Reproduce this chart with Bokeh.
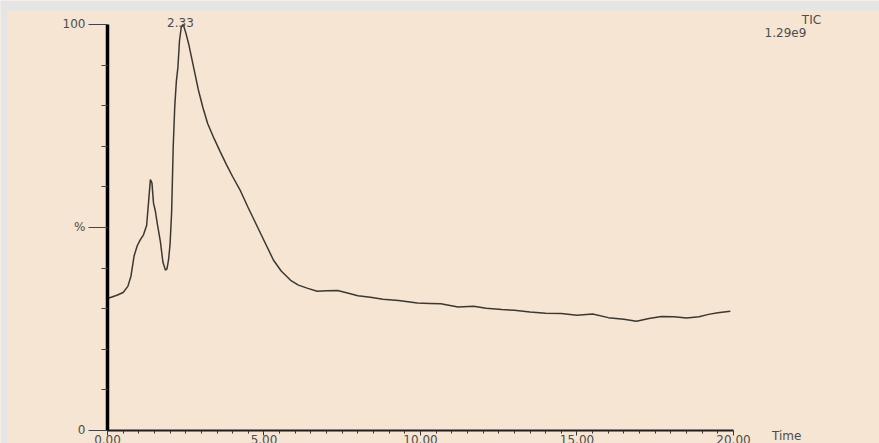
from bokeh.plotting import figure
from bokeh.models import Range1d, FixedTicker, Label, BoxAnnotation, PrintfTickFormatter
from bokeh.embed import file_html
from bokeh.resources import INLINE

# ---- data ----
time_min = [0.0, 0.3, 0.5, 0.65, 0.75, 0.85, 0.95, 1.05, 1.15, 1.25, 1.32, 1.37, 1.42,
            1.47, 1.53, 1.6, 1.69, 1.77, 1.85, 1.9, 1.95, 2.0, 2.05, 2.1, 2.15, 2.2,
            2.25, 2.3, 2.36, 2.42, 2.5, 2.6, 2.75, 2.9, 3.05, 3.2, 3.4, 3.6, 3.8, 4.0,
            4.25, 4.5, 4.8, 5.05, 5.3, 5.55, 5.85, 6.1, 6.4, 6.7, 7.0, 7.35, 7.7, 8.0,
            8.4, 8.8, 9.3, 9.9, 10.3, 10.65, 11.2, 11.7, 12.1, 12.6, 13.0, 13.5, 14.0,
            14.5, 15.0, 15.5, 16.0, 16.5, 16.9, 17.3, 17.7, 18.1, 18.5, 18.9, 19.2,
            19.5, 19.9]
intensity = [32.5, 33.3, 34.0, 35.5, 38.0, 43.0, 45.5, 47.0, 48.2, 50.5, 57.0, 61.8, 61.0,
             56.0, 54.0, 50.5, 46.5, 41.5, 39.5, 39.8, 42.0, 46.0, 54.0, 70.0, 80.0, 86.0,
             89.5, 96.0, 99.5, 100.0, 98.0, 95.0, 89.5, 84.0, 79.5, 75.6, 72.0, 68.7, 65.5,
             62.5, 59.0, 54.8, 50.0, 46.0, 42.0, 39.3, 37.0, 35.8, 35.0, 34.3, 34.4, 34.5,
             33.8, 33.2, 32.8, 32.3, 32.0, 31.4, 31.3, 31.2, 30.4, 30.6, 30.1, 29.8, 29.6,
             29.2, 28.9, 28.8, 28.4, 28.7, 27.8, 27.4, 26.9, 27.6, 28.1, 28.0, 27.7, 28.0,
             28.6, 29.0, 29.4]

x_tick_values = [0, 5, 10, 15, 20]
x_tick_labels = ["0.00", "5.00", "10.00", "15.00", "20.00"]
x_minor_ticks = [0.5, 1, 1.5, 2, 2.5, 3, 3.5, 4, 4.5, 5.5, 6, 6.5, 7, 7.5, 8, 8.5, 9, 9.5,
                 10.5, 11, 11.5, 12, 12.5, 13, 13.5, 14, 14.5, 15.5, 16, 16.5, 17, 17.5,
                 18, 18.5, 19, 19.5]
y_tick_values = [0, 50, 100]
y_tick_labels = ["0", "%", "100"]
y_minor_ticks = [10, 20, 30, 40, 60, 70, 80, 90]
peak_time = 2.33
peak_label = "2.33"
trace_name = "TIC"
trace_scale = "1.29e9"
x_title = "Time"

BG = "#F5E5D2"
EDGE = "#E5E5E5"
INK = "#4d4d4d"
FONT = "DejaVu Sans"
FS = "12px"

# frame fills the whole canvas; axes sit at x=0 / y=0 inside it
p = figure(width=879, height=443, output_backend="svg", toolbar_location=None,
           x_range=Range1d(-3.4185, 24.665), y_range=Range1d(-3.202, 105.91),
           min_border_left=0, min_border_right=0, min_border_top=0, min_border_bottom=0,
           background_fill_color=BG, border_fill_color=BG, outline_line_color=None)
p.grid.visible = False

# light grey edge of the reference image (top and left)
p.add_layout(BoxAnnotation(bottom=103.45, fill_color=EDGE, fill_alpha=1, line_color=None))
p.add_layout(BoxAnnotation(right=-3.19, fill_color=EDGE, fill_alpha=1, line_color=None))

p.line(time_min, intensity, line_color="#3b3833", line_width=1.5)

# x axis
xa = p.xaxis[0]
xa.fixed_location = 0
xa.ticker = FixedTicker(ticks=x_tick_values, minor_ticks=x_minor_ticks)
xa.formatter = PrintfTickFormatter(format="%.2f")
xa.major_label_overrides = {v: lab for v, lab in zip(x_tick_values, x_tick_labels)}
xa.bounds = (0, 20)
xa.axis_line_color = "#1e1e1e"
xa.axis_line_width = 2
xa.major_tick_line_color = "#333333"
xa.minor_tick_line_color = "#333333"
xa.major_tick_out = 5
xa.major_tick_in = 0
xa.minor_tick_out = 3
xa.minor_tick_in = 0
xa.major_label_standoff = 0
xa.major_label_text_font = FONT
xa.major_label_text_font_size = FS
xa.major_label_text_color = INK

# y axis
ya = p.yaxis[0]
ya.fixed_location = 0
ya.ticker = FixedTicker(ticks=y_tick_values, minor_ticks=y_minor_ticks)
ya.major_label_overrides = {v: lab for v, lab in zip(y_tick_values, y_tick_labels)}
ya.bounds = (0, 100)
ya.axis_line_color = "black"
ya.axis_line_width = 3.5
ya.major_tick_line_color = "#444444"
ya.minor_tick_line_color = "#444444"
ya.major_tick_out = 19
ya.major_tick_in = 0
ya.minor_tick_out = 6
ya.minor_tick_in = 0
ya.major_label_standoff = 3
ya.major_label_text_font = FONT
ya.major_label_text_font_size = FS
ya.major_label_text_color = INK

common = dict(text_font=FONT, text_font_size=FS, text_color=INK, text_align="center")
p.add_layout(Label(x=21.7, y=0, y_offset=-6, text=x_title, text_baseline="alphabetic", **common))
p.add_layout(Label(x=peak_time, y=100, y_offset=2, text=peak_label,
                   text_baseline="alphabetic", **common))
p.add_layout(Label(x=22.49, y=101.0, text=trace_name, text_baseline="alphabetic", **common))
p.add_layout(Label(x=21.66, y=98.0, text=trace_scale, text_baseline="alphabetic", **common))

open("out.html", "w").write(file_html(p, INLINE))
